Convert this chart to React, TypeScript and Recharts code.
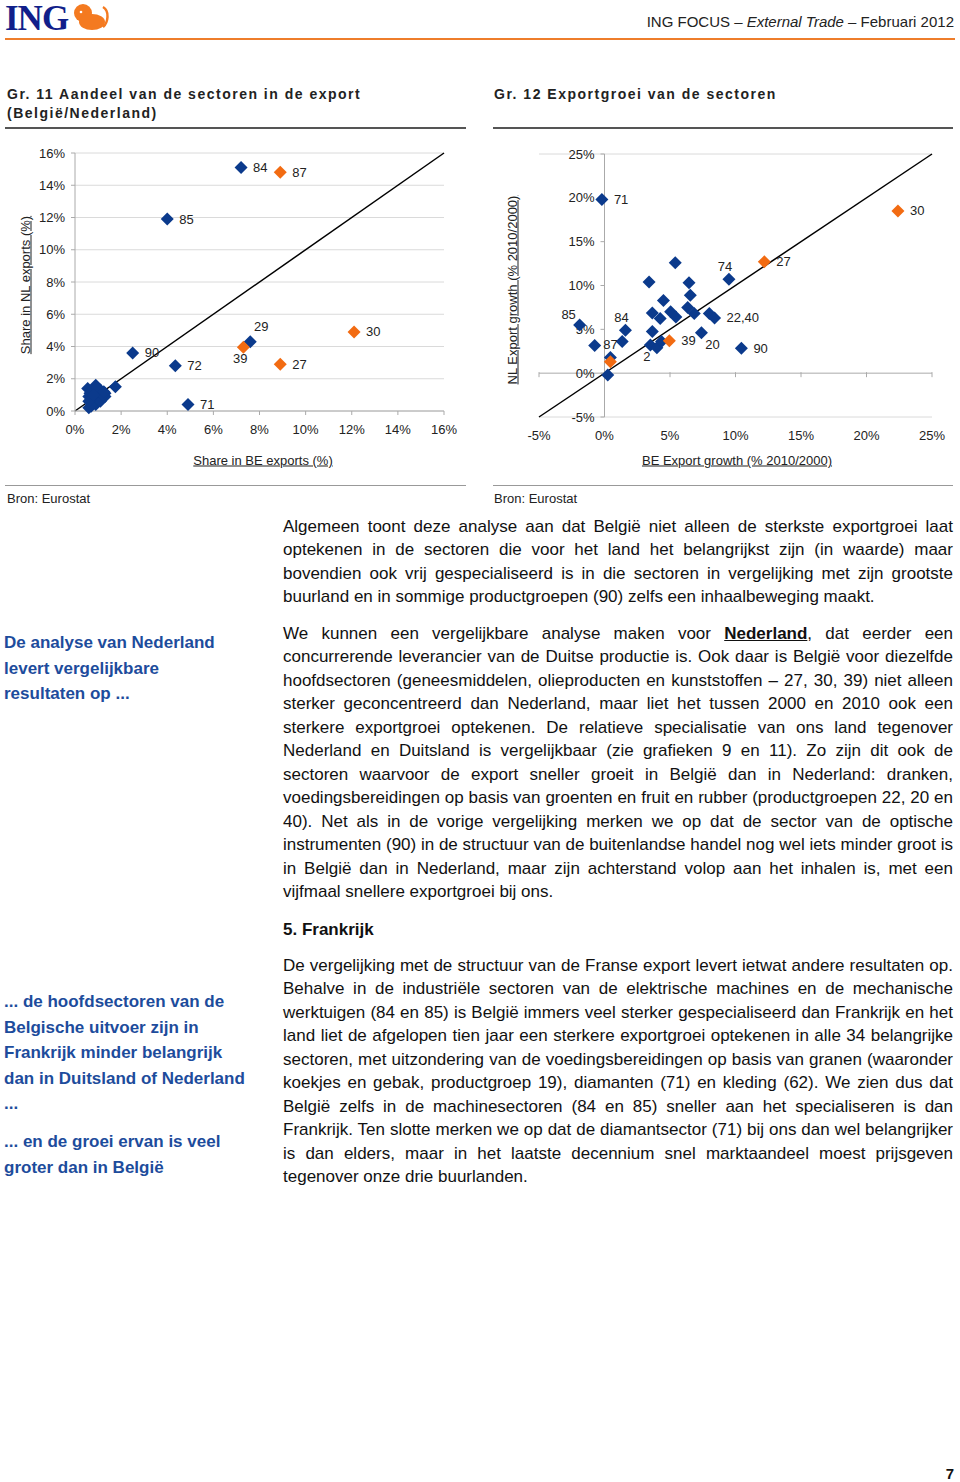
import React from "react";
import {
  ScatterChart,
  Scatter,
  XAxis,
  YAxis,
  CartesianGrid,
  ReferenceLine,
  ReferenceDot,
} from "recharts";

const BLUE = "#0b3a8c";
const ORANGE = "#f26b12";
const FONT = "'Liberation Sans', Arial, Helvetica, sans-serif";

// Gr. 11 - share of the sectors in the export (%)
const g11Sectors = [
  "85", "84", "87", "90", "72", "71", "29", "39", "27", "30",
  "", "", "", "", "", "", "", "", "", "", "", "", "",
  "", "", "", "", "", "", "", "", "", "", "",
];
const g11BeShare = [
  4.0, 7.2, 8.9, 2.5, 4.35, 4.9, 7.6, 7.3, 8.9, 12.1,
  0.55, 0.9, 1.1, 1.3, 1.75, 0.6, 0.6, 0.7, 0.8, 0.9, 1.0, 1.2,
  0.65, 0.75, 1.0, 1.3, 0.85, 1.1, 0.7, 1.2, 0.95, 0.6, 1.25, 0.8,
];
const g11NlShare = [
  11.9, 15.1, 14.8, 3.6, 2.8, 0.4, 4.3, 3.95, 2.9, 4.9,
  1.4, 1.6, 1.3, 1.1, 1.5, 0.2, 0.9, 0.5, 0.7, 0.4, 0.9, 0.8,
  1.1, 1.3, 1.2, 0.9, 0.6, 0.6, 0.3, 1.0, 1.45, 0.6, 1.2, 1.0,
];
const g11Ticks = [0, 2, 4, 6, 8, 10, 12, 14, 16];

// Gr. 12 - export growth of the sectors (% 2010/2000)
const g12Sectors = [
  "71", "85", "", "84", "", "", "", "", "", "", "", "", "", "", "",
  "", "", "", "", "", "2", "", "20", "", "22,40", "74", "90",
  "87", "39", "27", "30",
];
const g12BeGrowth = [
  -0.2, -1.9, -0.75, 1.6, 1.35, 0.25, 0.45, 3.4, 5.4, 6.45, 6.55, 4.5, 3.65, 4.25, 5.05,
  5.45, 6.35, 6.85, 3.65, 3.5, 4.0, 4.35, 7.4, 8.0, 8.4, 9.5, 10.45,
  0.45, 4.95, 12.2, 22.4,
];
const g12NlGrowth = [
  19.8, 5.5, 3.15, 4.9, 3.6, -0.2, 1.8, 10.4, 12.6, 10.3, 8.9, 8.3, 6.85, 6.25, 7.0,
  6.4, 7.5, 6.8, 4.75, 3.2, 2.9, 3.6, 4.6, 6.8, 6.3, 10.7, 2.85,
  1.3, 3.7, 12.7, 18.5,
];
const g12Ticks = [-5, 0, 5, 10, 15, 20, 25];

// highlighted sectors (orange)
const focusSectors = ["27", "30", "39", "87"];

const g11Side: Record<string, string> = { "29": "aboveRight", "39": "below" };
const g12Side: Record<string, string> = {
  "85": "aboveLeft",
  "84": "above",
  "87": "aboveHigh",
  "2": "belowLeft",
  "20": "belowRight",
  "74": "above",
};

const OFFSETS: Record<string, [number, number, string]> = {
  right: [12, 0, "start"],
  above: [-4, -13, "middle"],
  aboveHigh: [0, -17, "middle"],
  aboveLeft: [-11, -10, "middle"],
  aboveRight: [11, -15, "middle"],
  below: [-3, 11, "middle"],
  belowLeft: [-10, 9, "middle"],
  belowRight: [11, 12, "middle"],
};

function buildPoints(xs: number[], ys: number[], names: string[]) {
  return xs.map((x, i) => ({ x, y: ys[i], sector: names[i], focus: focusSectors.includes(names[i]) }));
}

const g11Points = buildPoints(g11BeShare, g11NlShare, g11Sectors);
const g12Points = buildPoints(g12BeGrowth, g12NlGrowth, g12Sectors);

const pct = (v: number) => `${v}%`;
const tickStyle = { fontSize: 13, fill: "#222", fontFamily: FONT };

function makeDiamond(color: string, side: Record<string, string>) {
  return (props: any) => {
    const { cx, cy, payload } = props;
    if (cx == null || cy == null) return <g />;
    const r = 6.5;
    const name = payload?.sector;
    const [dx, dy, anchor] = OFFSETS[side[name] ?? "right"];
    return (
      <g>
        <polygon
          points={`${cx},${cy - r} ${cx + r},${cy} ${cx},${cy + r} ${cx - r},${cy}`}
          fill={color}
        />
        {name ? (
          <text
            x={cx + dx}
            y={cy + dy}
            textAnchor={anchor as any}
            dominantBaseline="central"
            fontSize={13}
            fill="#222"
            fontFamily={FONT}
          >
            {name}
          </text>
        ) : null}
      </g>
    );
  };
}

function ShareChart() {
  return (
    <ScatterChart width={466} height={340} margin={{ top: 13, right: 22, bottom: 0, left: 0 }}>
      <CartesianGrid vertical={false} stroke="#dadada" />
      <XAxis
        type="number"
        dataKey="x"
        domain={[0, 16]}
        ticks={g11Ticks}
        interval={0}
        tickFormatter={pct}
        height={69}
        stroke="#aaa"
        tickSize={4}
        tickMargin={10}
        tick={tickStyle}
      />
      <YAxis
        type="number"
        dataKey="y"
        domain={[0, 16]}
        ticks={g11Ticks}
        interval={0}
        tickFormatter={pct}
        width={75}
        stroke="#aaa"
        tickSize={4}
        tickMargin={6}
        tick={tickStyle}
      />
      <Scatter data={g11Points.filter((p) => !p.focus)} shape={makeDiamond(BLUE, g11Side)} isAnimationActive={false} />
      <Scatter data={g11Points.filter((p) => p.focus)} shape={makeDiamond(ORANGE, g11Side)} isAnimationActive={false} />
      <ReferenceLine segment={[{ x: 0, y: 0 }, { x: 16, y: 16 }]} stroke="#000" strokeWidth={1.5} />
    </ScatterChart>
  );
}

function GrowthChart() {
  return (
    <ScatterChart width={490} height={340} margin={{ top: 14, right: 28, bottom: 0, left: 69 }}>
      <CartesianGrid vertical={false} stroke="#dadada" />
      <XAxis
        type="number"
        dataKey="x"
        domain={[-5, 25]}
        ticks={g12Ticks}
        interval={0}
        tickFormatter={pct}
        height={63}
        axisLine={false}
        tickLine={false}
        tickSize={4}
        tickMargin={10}
        tick={tickStyle}
      />
      <YAxis type="number" dataKey="y" domain={[-5, 25]} ticks={g12Ticks} interval={0} width={0} tick={false} axisLine={false} tickLine={false} />
      <ReferenceLine y={0} stroke="#aaa" />
      <ReferenceLine x={0} stroke="#aaa" />
      {g12Ticks.map((v) => (
        <ReferenceDot
          key={"xt" + v}
          x={v}
          y={0}
          r={0}
          shape={(p: any) => <line x1={p.cx} x2={p.cx} y1={p.cy - 1} y2={p.cy + 4} stroke="#aaa" />}
        />
      ))}
      {g12Ticks.map((v) => (
        <ReferenceDot
          key={"yt" + v}
          x={0}
          y={v}
          r={0}
          shape={(p: any) => (
            <g>
              <line x1={p.cx - 4} x2={p.cx} y1={p.cy} y2={p.cy} stroke="#aaa" />
              <text x={p.cx - 10} y={p.cy} textAnchor="end" dominantBaseline="central" {...tickStyle}>
                {pct(v)}
              </text>
            </g>
          )}
        />
      ))}
      <Scatter data={g12Points.filter((p) => !p.focus)} shape={makeDiamond(BLUE, g12Side)} isAnimationActive={false} />
      <Scatter data={g12Points.filter((p) => p.focus)} shape={makeDiamond(ORANGE, g12Side)} isAnimationActive={false} />
      <ReferenceLine segment={[{ x: -5, y: -5 }, { x: 25, y: 25 }]} stroke="#000" strokeWidth={1.5} />
    </ScatterChart>
  );
}

const para1 = [
  "Algemeen toont deze analyse aan dat België niet alleen de sterkste exportgroei laat",
  "optekenen in de sectoren die voor het land het belangrijkst zijn (in waarde) maar",
  "bovendien ook vrij gespecialiseerd is in die sectoren in vergelijking met zijn grootste",
  "buurland en in sommige productgroepen (90) zelfs een inhaalbeweging maakt.",
];

const para2: React.ReactNode[] = [
  <>
    We kunnen een vergelijkbare analyse maken voor{" "}
    <b style={{ textDecoration: "underline" }}>Nederland</b>, dat eerder een
  </>,
  "concurrerende leverancier van de Duitse productie is. Ook daar is België voor diezelfde",
  "hoofdsectoren (geneesmiddelen, olieproducten en kunststoffen – 27, 30, 39) niet alleen",
  "sterker geconcentreerd dan Nederland, maar liet het tussen 2000 en 2010 ook een",
  "sterkere exportgroei optekenen. De relatieve specialisatie van ons land tegenover",
  "Nederland en Duitsland is vergelijkbaar (zie grafieken 9 en 11). Zo zijn dit ook de",
  "sectoren waarvoor de export sneller groeit in België dan in Nederland: dranken,",
  "voedingsbereidingen op basis van groenten en fruit en rubber (productgroepen 22, 20 en",
  "40). Net als in de vorige vergelijking merken we op dat de sector van de optische",
  "instrumenten (90) in de structuur van de buitenlandse handel nog wel iets minder groot is",
  "in België dan in Nederland, maar zijn achterstand volop aan het inhalen is, met een",
  "vijfmaal snellere exportgroei bij ons.",
];

const para3 = [
  "De vergelijking met de structuur van de Franse export levert ietwat andere resultaten op.",
  "Behalve in de industriële sectoren van de elektrische machines en de mechanische",
  "werktuigen (84 en 85) is België immers veel sterker gespecialiseerd dan Frankrijk en het",
  "land liet de afgelopen tien jaar een sterkere exportgroei optekenen in alle 34 belangrijke",
  "sectoren, met uitzondering van de voedingsbereidingen op basis van granen (waaronder",
  "koekjes en gebak, productgroep 19), diamanten (71) en kleding (62). We zien dus dat",
  "België zelfs in de machinesectoren (84 en 85) sneller aan het specialiseren is dan",
  "Frankrijk. Ten slotte merken we op dat de diamantsector (71) bij ons dan wel belangrijker",
  "is dan elders, maar in het laatste decennium snel marktaandeel moest prijsgeven",
  "tegenover onze drie buurlanden.",
];

function Para({ top, lines }: { top: number; lines: React.ReactNode[] }) {
  return (
    <div style={{ position: "absolute", left: 283, top, width: 670, fontSize: 17, lineHeight: "23.45px" }}>
      {lines.map((l, i) => (
        <div
          key={i}
          style={{
            whiteSpace: "nowrap",
            textAlign: i === lines.length - 1 ? "left" : "justify",
            textAlignLast: i === lines.length - 1 ? "left" : "justify",
          }}
        >
          {l}
        </div>
      ))}
    </div>
  );
}

function Side({ top, lines }: { top: number; lines: string[] }) {
  return (
    <div style={{ position: "absolute", left: 4, top, fontSize: 17, fontWeight: "bold", lineHeight: "25.5px", color: "#1d4c9c" }}>
      {lines.map((l, i) => (
        <div key={i} style={{ whiteSpace: "nowrap" }}>{l}</div>
      ))}
    </div>
  );
}

const rule = (left: number, top: number, width: number, h: number, c: string) => (
  <div style={{ position: "absolute", left, top, width, height: h, background: c }} />
);

export default function App() {
  return (
    <div style={{ position: "absolute", left: 0, top: 0, width: 960, height: 1482, background: "#fff", fontFamily: FONT, color: "#111" }}>
      {/* header */}
      <div style={{ position: "absolute", left: 5, top: 0, fontFamily: "'Liberation Serif', 'DejaVu Serif', serif", fontWeight: "bold", fontSize: 35, lineHeight: "38px", color: "#111f8a", letterSpacing: -1 }}>
        ING
      </div>
      <svg style={{ position: "absolute", left: 70, top: 3 }} width={40} height={28}>
        <ellipse cx={13} cy={10} rx={9} ry={9} fill="#f47a20" />
        <ellipse cx={22} cy={19} rx={13} ry={8} fill="#f47a20" />
        <path d="M33 4 C40 8 38 20 33 24" stroke="#f47a20" strokeWidth={2.5} fill="none" />
        <circle cx={11} cy={9} r={1.3} fill="#fff" />
      </svg>
      <div style={{ position: "absolute", right: 6, top: 13, fontSize: 15, color: "#222", whiteSpace: "nowrap" }}>
        ING FOCUS – <i>External Trade</i> – Februari 2012
      </div>
      {rule(5, 38, 950, 2, "#ee7d2b")}

      {/* chart titles */}
      <div style={{ position: "absolute", left: 7, top: 85, fontSize: 14, fontWeight: "bold", letterSpacing: 1.5, lineHeight: "19px", color: "#222" }}>
        Gr. 11 Aandeel van de sectoren in de export
        <br />
        (België/Nederland)
      </div>
      <div style={{ position: "absolute", left: 494, top: 85, fontSize: 14, fontWeight: "bold", letterSpacing: 1.5, lineHeight: "19px", color: "#222" }}>
        Gr. 12 Exportgroei van de sectoren
      </div>
      {rule(5, 127, 461, 1.5, "#555")}
      {rule(493, 127, 460, 1.5, "#555")}

      {/* charts */}
      <div style={{ position: "absolute", left: 0, top: 140 }}>
        <ShareChart />
      </div>
      <div style={{ position: "absolute", left: 470, top: 140 }}>
        <GrowthChart />
      </div>

      {/* axis titles */}
      <div style={{ position: "absolute", left: 25, top: 285, transform: "translate(-50%, -50%) rotate(-90deg)", fontSize: 13, textDecoration: "underline", whiteSpace: "nowrap", color: "#222" }}>
        Share in NL exports (%)
      </div>
      <div style={{ position: "absolute", left: 263, top: 460, transform: "translate(-50%, -50%)", fontSize: 13, textDecoration: "underline", whiteSpace: "nowrap", color: "#222" }}>
        Share in BE exports (%)
      </div>
      <div style={{ position: "absolute", left: 512, top: 290, transform: "translate(-50%, -50%) rotate(-90deg)", fontSize: 13, textDecoration: "underline", whiteSpace: "nowrap", color: "#222" }}>
        NL Export growth (% 2010/2000)
      </div>
      <div style={{ position: "absolute", left: 737, top: 460, transform: "translate(-50%, -50%)", fontSize: 13, textDecoration: "underline", whiteSpace: "nowrap", color: "#222" }}>
        BE Export growth (% 2010/2000)
      </div>

      {rule(5, 485, 461, 1, "#999")}
      {rule(493, 485, 460, 1, "#999")}
      <div style={{ position: "absolute", left: 7, top: 491, fontSize: 13, color: "#222" }}>Bron: Eurostat</div>
      <div style={{ position: "absolute", left: 494, top: 491, fontSize: 13, color: "#222" }}>Bron: Eurostat</div>

      {/* body text */}
      <Para top={515} lines={para1} />
      <Para top={622} lines={para2} />
      <div style={{ position: "absolute", left: 283, top: 918, fontSize: 17, fontWeight: "bold", lineHeight: "23px" }}>
        5. Frankrijk
      </div>
      <Para top={954} lines={para3} />

      <Side top={630} lines={["De analyse van Nederland", "levert vergelijkbare", "resultaten op ..."]} />
      <Side
        top={989}
        lines={["... de hoofdsectoren van de", "Belgische uitvoer zijn in", "Frankrijk minder belangrijk", "dan in Duitsland of Nederland", "..."]}
      />
      <Side top={1129} lines={["... en de groei ervan is veel", "groter dan in België"]} />

      <div style={{ position: "absolute", right: 6, top: 1465, fontSize: 15, fontWeight: "bold" }}>7</div>
    </div>
  );
}
